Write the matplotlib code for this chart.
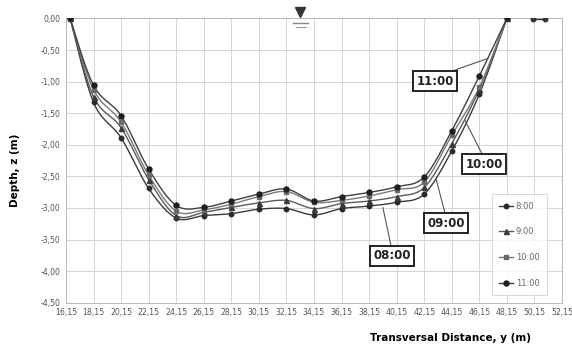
import numpy as np
import matplotlib
matplotlib.use("Agg")
import matplotlib.pyplot as plt
from matplotlib.ticker import FuncFormatter
from matplotlib.transforms import ScaledTranslation

# transversal positions (m)
y_pos = [16.45, 18.15, 20.15, 22.15, 24.15, 26.15, 28.15, 30.15, 32.15,
         34.15, 36.15, 38.15, 40.15, 42.15, 44.15, 46.15, 48.15]

depth_0800 = [0.00, -1.33, -1.89, -2.69, -3.16, -3.12, -3.09, -3.02, -3.01,
              -3.11, -3.01, -2.97, -2.91, -2.78, -2.10, -1.20, 0.00]
depth_0900 = [0.00, -1.24, -1.73, -2.55, -3.12, -3.07, -2.99, -2.92, -2.88,
              -3.01, -2.93, -2.89, -2.82, -2.675, -1.98, -1.12, 0.00]
depth_1000 = [0.00, -1.13, -1.64, -2.48, -3.05, -3.03, -2.94, -2.82, -2.74,
              -2.91, -2.88, -2.81, -2.71, -2.59, -1.85, -1.09, 0.00]
depth_1100 = [0.00, -1.06, -1.54, -2.385, -2.96, -2.99, -2.89, -2.78, -2.70,
              -2.89, -2.82, -2.755, -2.665, -2.51, -1.78, -0.91, 0.00]

# loose points at the right bank
bank_y = [50.05, 50.95]
bank_z = [-0.01, -0.01]

series_labels = ["8:00", "9:00", "10:00", "11:00"]
x_ticks = [16.15 + 2 * i for i in range(19)]
y_ticks = [0.0, -0.5, -1.0, -1.5, -2.0, -2.5, -3.0, -3.5, -4.0, -4.5]


def smooth(x, y, n=20):
    # excel-like smoothed line (catmull-rom through the points)
    x = np.asarray(x, float)
    y = np.asarray(y, float)
    px = np.concatenate([[x[0]], x, [x[-1]]])
    py = np.concatenate([[y[0]], y, [y[-1]]])
    t = np.linspace(0, 1, n)[:, None]
    xs, ys = [], []
    for i in range(1, len(px) - 2):
        p0 = np.array([px[i], py[i]])
        p3 = np.array([px[i + 1], py[i + 1]])
        c1 = p0 + (p3 - np.array([px[i - 1], py[i - 1]])) / 6
        c2 = p3 - (np.array([px[i + 2], py[i + 2]]) - p0) / 6
        b = ((1 - t) ** 3) * p0 + 3 * ((1 - t) ** 2) * t * c1 + 3 * (1 - t) * t ** 2 * c2 + t ** 3 * p3
        xs.append(b[:, 0])
        ys.append(b[:, 1])
    return np.concatenate(xs), np.concatenate(ys)


fig = plt.figure(figsize=(5.72, 3.45), dpi=100)
ax = fig.add_axes([0.1154, 0.1226, 0.867, 0.8238])

styles = [
    (depth_0800, "#3a3a3a", "o", 3.2, "#2a2a2a"),
    (depth_0900, "#5a5a5a", "^", 3.6, "#3a3a3a"),
    (depth_1000, "#7a7a7a", "s", 3.2, "#6a6a6a"),
    (depth_1100, "#404040", "o", 3.6, "#202020"),
]
for (z, col, mk, ms, mcol), lab in zip(styles, series_labels):
    sx, sz = smooth(y_pos, z)
    ax.plot(sx, sz, color=col, lw=1.0, zorder=3)
    ax.plot(y_pos, z, ls="none", marker=mk, ms=ms, color=mcol, zorder=4)
    ax.plot([], [], color=col, lw=1.0, marker=mk, ms=ms, mfc=mcol, mec=mcol, label=lab)

ax.plot(bank_y, bank_z, color="#333333", lw=1.0, marker="o", ms=3.2, zorder=4)

ax.set_xlim(16.15, 52.15)
ax.set_ylim(-4.5, 0.0)
ax.set_xticks(x_ticks)
ax.set_yticks(y_ticks)
comma = FuncFormatter(lambda v, p: f"{v:.2f}".replace(".", ","))
ax.xaxis.set_major_formatter(comma)
ax.yaxis.set_major_formatter(comma)
ax.tick_params(labelsize=5.6, colors="#555555", length=0, pad=4)
ax.grid(True, color="#d4d4d4", lw=0.7)
ax.set_axisbelow(True)
for s in ax.spines.values():
    s.set_color("#b8b8b8")
    s.set_linewidth(0.7)

leg = ax.legend(loc="lower right", bbox_to_anchor=(0.975, 0.018), fontsize=6,
                frameon=True, fancybox=False, labelspacing=2.0, handlelength=1.7,
                handletextpad=0.3, borderpad=0.9, borderaxespad=0.3,
                labelcolor="#666666")
leg.get_frame().set_edgecolor("#d0d0d0")
leg.get_frame().set_linewidth(0.7)

# time labels on the curves
box = dict(boxstyle="square,pad=0.3", fc="white", ec="#222222", lw=1.4)
annots = [
    ("11:00", (46.8, -0.63), (42.93, -0.99), (0.7, 1.0)),
    ("10:00", (45.1, -1.61), (46.5, -2.31), (0.5, 1.0)),
    ("09:00", (43.0, -2.53), (43.73, -3.24), (0.5, 1.0)),
    ("08:00", (39.15, -2.99), (39.8, -3.76), (0.5, 1.0)),
]
for txt, xy, xyt, rp in annots:
    ax.annotate(txt, xy=xy, xytext=xyt, fontsize=8.5, fontweight="bold",
                color="#222222", ha="center", va="center", bbox=box,
                arrowprops=dict(arrowstyle="-", color="#555555", lw=0.8,
                                shrinkA=0, shrinkB=0, relpos=rp), zorder=6)

# water level symbol
tri, = ax.plot([33.1], [0.0], marker="v", ms=6.5, color="#333333", clip_on=False,
               linestyle="none", zorder=7)
tri.set_transform(ax.transData + ScaledTranslation(0, 5.0 / 72, fig.dpi_scale_trans))
ax.plot([32.65, 33.75], [-0.07, -0.07], color="#888888", lw=1.0, clip_on=False, zorder=7)
ax.plot([32.85, 33.55], [-0.13, -0.13], color="#999999", lw=0.8, clip_on=False, zorder=7)

ax.set_ylabel("Depth, z (m)", fontsize=7.5, fontweight="bold")
ax.yaxis.set_label_coords(-0.092, 0.467)
fig.text(0.788, 0.02, "Transversal Distance, y (m)", fontsize=7.5,
         fontweight="bold", ha="center", va="center")

fig.savefig("out.png", dpi=100)
